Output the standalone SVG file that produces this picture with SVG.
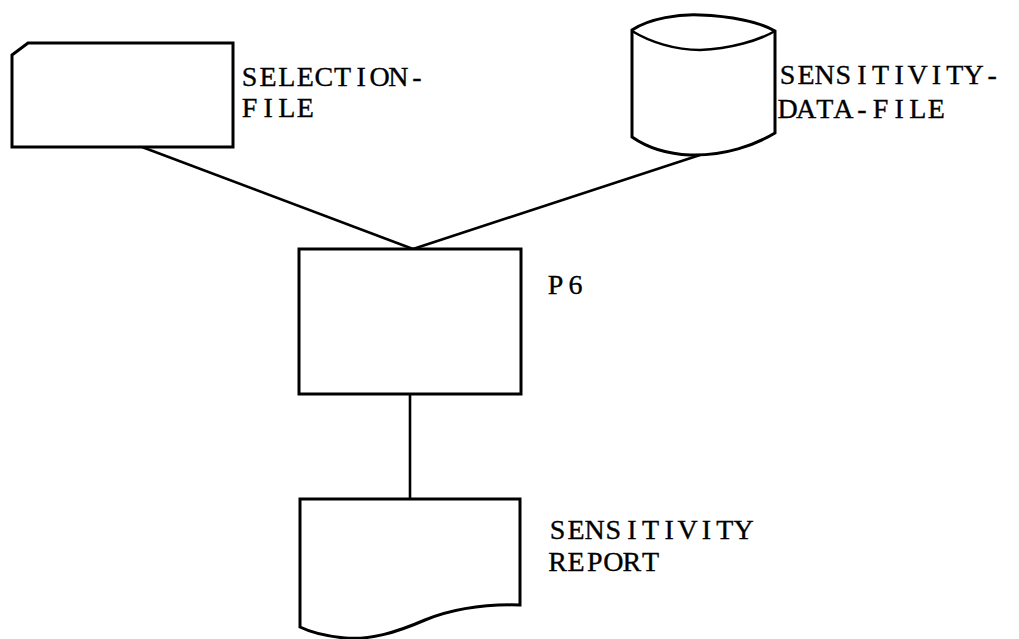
<svg xmlns="http://www.w3.org/2000/svg" width="1019" height="639" viewBox="0 0 1019 639">
  <style>
    .shape { fill: #ffffff; stroke: #000000; stroke-width: 3; stroke-linejoin: miter; }
    .link { fill: none; stroke: #000000; stroke-width: 2.6; }
    /* typewriter lettering: each glyph centred in a fixed-pitch cell */
    .label { font-family: "Liberation Serif", "DejaVu Serif", serif; font-size: 28px; fill: #000000; stroke: #000000; stroke-width: 0.35; text-anchor: middle; }
  </style>
  <rect width="1019" height="639" fill="#ffffff"/>

  <!-- connectors -->
  <g id="connectors">
    <line class="link" x1="142" y1="147" x2="413" y2="249"/>
    <line class="link" x1="700" y1="155" x2="413" y2="249"/>
    <line class="link" x1="410" y1="394" x2="410" y2="499"/>
  </g>

  <!-- punched card: SELECTION-FILE -->
  <g id="selection-file">
    <path class="shape" d="M12,55 L28,43 L233,43 L233,147 L12,147 Z"/>
    <text class="label" x="249.5 268.1 286.7 305.3 323.9 342.5 361.1 379.7 398.3 416.9" y="86">SELECTION-</text>
    <text class="label" x="249.5 268.1 286.7 305.3" y="117">FILE</text>
  </g>

  <!-- disk storage: SENSITIVITY-DATA-FILE -->
  <g id="sensitivity-data-file">
    <path class="shape" d="M632,30 C650,18 680,14 700,15 C730,16 760,22 775,31 L775,133 C755,145 725,156 690,155 C665,154 645,146 632,137 Z"/>
    <path class="link" stroke-width="3" d="M632,31 C650,42 675,50 700,50 C730,49 760,40 775,31"/>
    <text class="label" x="787.5 806.1 824.7 843.3 861.9 880.5 899.1 917.7 936.3 954.9 973.5 992.1" y="84">SENSITIVITY-</text>
    <text class="label" x="787.5 806.1 824.7 843.3 861.9 880.5 899.1 917.7 936.3" y="118">DATA-FILE</text>
  </g>

  <!-- process: P6 -->
  <g id="p6">
    <rect class="shape" x="299" y="249" width="222" height="145"/>
    <text class="label" x="555.5 575.5" y="294">P6</text>
  </g>

  <!-- document: SENSITIVITY REPORT -->
  <g id="sensitivity-report">
    <path class="shape" d="M300,499 L520,499 L520,605 C485,604 455,608 425,620 C395,633 370,640 345,638 C325,636 310,632 300,627 Z"/>
    <text class="label" x="557.5 576.1 594.7 613.3 631.9 650.5 669.1 687.7 706.3 724.9 743.5" y="539">SENSITIVITY</text>
    <text class="label" x="557.5 576.1 594.7 613.3 631.9 650.5" y="571">REPORT</text>
  </g>
</svg>
